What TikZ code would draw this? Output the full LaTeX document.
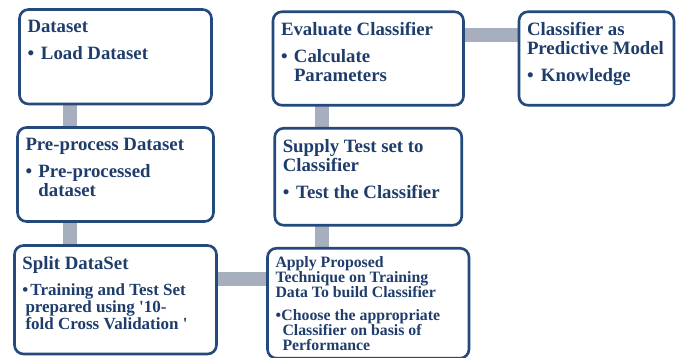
\documentclass[tikz,border=0pt]{standalone}
\usepackage{fontspec}
\setmainfont{Liberation Serif}
\usepackage{xcolor}
\usetikzlibrary{positioning,backgrounds}

\definecolor{cardline}{HTML}{24497C}
\definecolor{cardtext}{HTML}{1F3D6B}
\definecolor{linkbar}{HTML}{A7AEBE}

% fixed-size text block, content pinned to the top
\newcommand{\cardbody}[3]{\parbox[t][#2][t]{#1}{\raggedright #3}}
% bullet line: hang width, text
\newcommand{\bul}[2]{\par\vspace{8pt}\hangindent=#1\hangafter=1\noindent\makebox[#1][l]{\textbullet}#2}
% bullet line with its own box width and hang
\newcommand{\bulx}[3]{\par\vspace{8.5pt}\hangindent=#2\hangafter=1\noindent\makebox[#1][l]{\textbullet}#3}

\begin{document}
\begin{tikzpicture}[x=1pt,y=1pt,node distance=23pt]
  \tikzstyle{card}=[draw=cardline,line width=2.6pt,outer sep=0pt,rounded corners=9pt,fill=white,text=cardtext,inner xsep=8pt,inner ysep=11pt,font=\fontsize{18.8}{19}\selectfont\bfseries]
  \tikzstyle{joint}=[linkbar,line width=14pt]
  \useasboundingbox (0,0) rectangle (681,357);
  % left column
  \node[card,anchor=north west] (data) at (19.5,347.5) {\cardbody{176pt}{72.5pt}{Dataset\bul{13.5pt}{Load Dataset}}};
  \node[card,below=23.5pt of data] (prep) {\cardbody{180pt}{72pt}{Pre-process Dataset\bul{13pt}{Pre-processed\newline dataset}}};
  \node[card,below=24pt of prep] (split) {\cardbody{186pt}{86.5pt}{Split DataSet\fontsize{17}{17}\selectfont\bulx{8pt}{3pt}{Training and Test Set\newline prepared using \textquotesingle10-\newline fold Cross Validation \textquotesingle}}};
  % middle column, bottom up
  \node[card,right=51pt of split,yshift=-3.5pt,font=\fontsize{15.8}{15}\selectfont\bfseries] (apply) {\cardbody{185.5pt}{88pt}{\vspace*{-3pt}Apply Proposed\\Technique on Training\\Data To build Classifier\bulx{6pt}{7pt}{Choose the appropriate\newline Classifier on basis of\newline Performance}}};
  \node[card,above=23pt of apply] (supply) {\cardbody{171pt}{75pt}{Supply Test set to\\Classifier\bul{13.5pt}{Test the Classifier}}};
  \node[card,above=23pt of supply] (eval) {\cardbody{174.5pt}{71.5pt}{Evaluate Classifier\bul{13pt}{Calculate\newline Parameters}}};
  \node[card,right=55.5pt of eval] (model) {\cardbody{139pt}{71.5pt}{Classifier as\\Predictive Model\bul{14pt}{Knowledge}}};
  % grey joints behind the cards
  \begin{scope}[on background layer]
    \fill[white] (0,0) rectangle (681,357);
    \draw[joint] ([xshift=-46pt]data.south) -- ([xshift=-46pt]data.south |- prep.north);
    \draw[joint] ([xshift=-46pt]prep.south) -- ([xshift=-46pt]prep.south |- split.north);
    \draw[joint] ([yshift=-33.5pt]split.north east) -- ([yshift=-33.5pt]split.north east -| apply.west);
    \draw[joint] ([xshift=-46pt]apply.north) -- ([xshift=-46pt]apply.north |- supply.south);
    \draw[joint] ([xshift=-46pt]supply.north) -- ([xshift=-46pt]supply.north |- eval.south);
    \draw[joint] ([yshift=-23pt]eval.north east) -- ([yshift=-23pt]eval.north east -| model.west);
  \end{scope}
\end{tikzpicture}
\end{document}
